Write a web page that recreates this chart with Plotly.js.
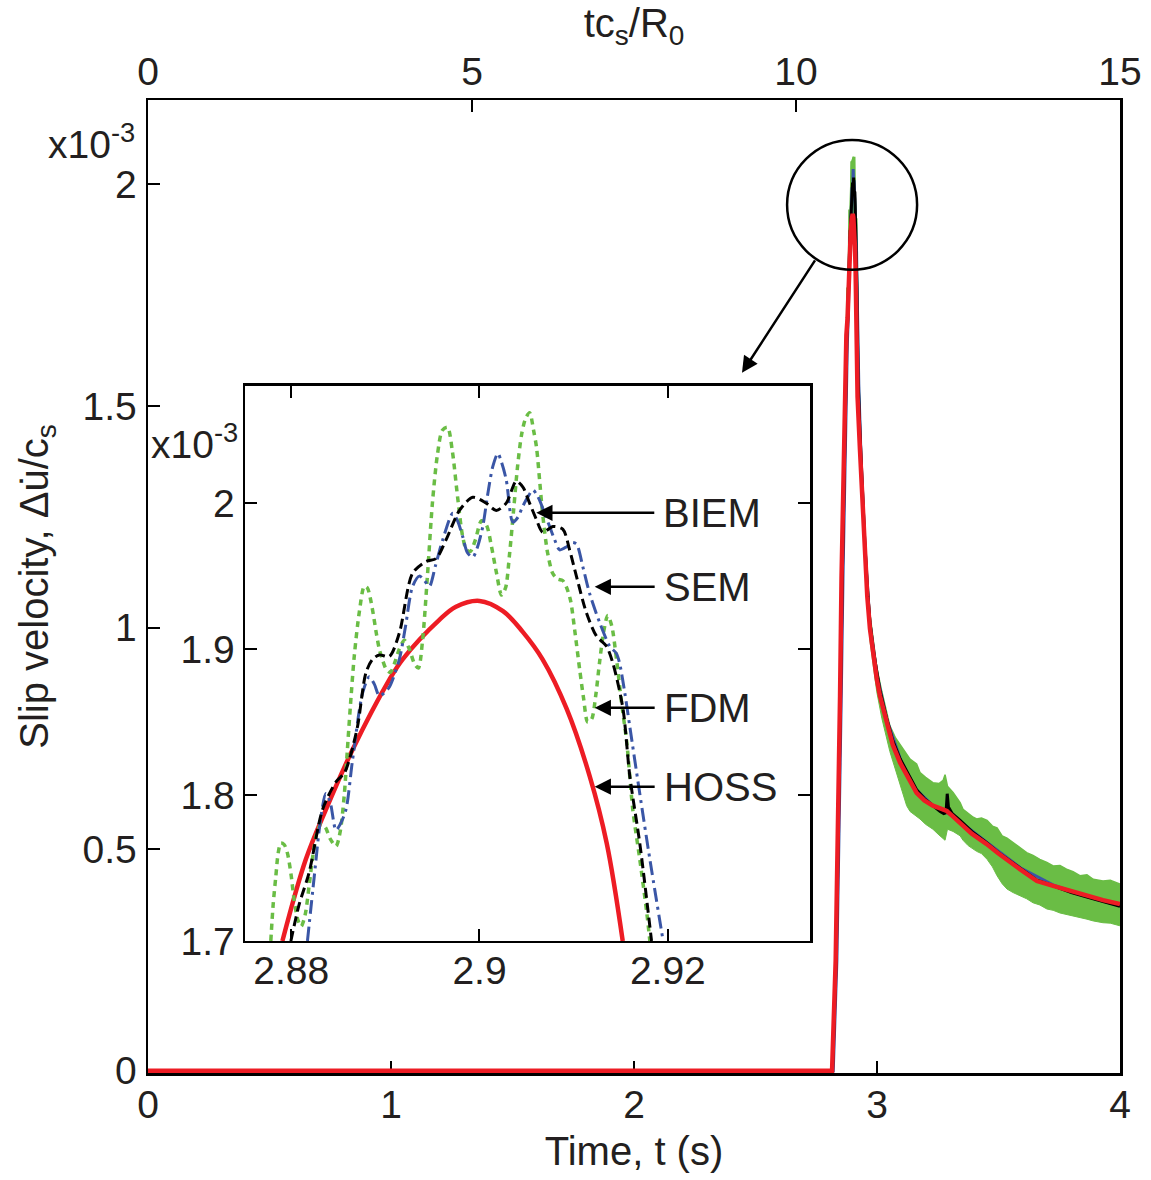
<!DOCTYPE html>
<html>
<head>
<meta charset="utf-8">
<script src="https://cdn.plot.ly/plotly-3.0.1.min.js"></script>
<style>
  html, body { margin: 0; padding: 0; background: #fff; }
  #chart { width: 1151px; height: 1180px; }
</style>
</head>
<body>
<div id="chart"></div>
<script>
// ---------------- DATA (slip velocity in units of 1e-3) ----------------
// Inset (zoom near the peak), time in s
const hossInsetT = [2.87907, 2.88156, 2.88369, 2.88652, 2.89043, 2.89184, 2.89574, 2.8975, 2.9, 2.9025, 2.90457, 2.90670, 2.90926, 2.91170, 2.91351, 2.91521];
const hossInsetV = [1.700, 1.756, 1.790, 1.831, 1.879, 1.893, 1.920, 1.929, 1.933, 1.926, 1.912, 1.893, 1.859, 1.813, 1.767, 1.700];

const biemInsetT = [2.87997, 2.88085, 2.88191, 2.88333, 2.88476, 2.88564, 2.88617, 2.88705, 2.88795, 2.88865, 2.88936, 2.89043, 2.89149, 2.89290, 2.89433, 2.89539, 2.89646, 2.89787, 2.89929, 2.90071, 2.90178, 2.90284, 2.90390, 2.90461, 2.90532, 2.90603, 2.90673, 2.90780, 2.90886, 2.90957, 2.91029, 2.91135, 2.91241, 2.91348, 2.91418, 2.91524, 2.91596, 2.91702, 2.91827];
const biemInsetV = [1.700, 1.725, 1.747, 1.790, 1.809, 1.815, 1.824, 1.847, 1.884, 1.893, 1.896, 1.895, 1.911, 1.952, 1.960, 1.962, 1.975, 1.995, 2.004, 2.000, 1.995, 2.000, 2.015, 2.011, 2.000, 1.989, 1.980, 1.984, 1.982, 1.968, 1.950, 1.925, 1.909, 1.902, 1.890, 1.859, 1.813, 1.767, 1.700];

const semInsetT = [2.88173, 2.88245, 2.88316, 2.88369, 2.88415, 2.88476, 2.88521, 2.88582, 2.88652, 2.88759, 2.88830, 2.88883, 2.88936, 2.88989, 2.89043, 2.89149, 2.89213, 2.89290, 2.89362, 2.89415, 2.89468, 2.89532, 2.89610, 2.89716, 2.89766, 2.89822, 2.89872, 2.89929, 2.89979, 2.90035, 2.90085, 2.90141, 2.90195, 2.90234, 2.90284, 2.90354, 2.90404, 2.90461, 2.90511, 2.90567, 2.90606, 2.90638, 2.90691, 2.90745, 2.90798, 2.90851, 2.90922, 2.90979, 2.91029, 2.91099, 2.91170, 2.91277, 2.91383, 2.91454, 2.91489, 2.91543, 2.91596, 2.91702, 2.91809, 2.91950];
const semInsetV = [1.700, 1.744, 1.785, 1.801, 1.795, 1.776, 1.780, 1.790, 1.824, 1.870, 1.881, 1.876, 1.868, 1.870, 1.874, 1.893, 1.915, 1.943, 1.950, 1.947, 1.943, 1.957, 1.975, 1.993, 1.988, 1.977, 1.966, 1.963, 1.970, 1.984, 2.005, 2.025, 2.034, 2.028, 2.016, 1.987, 1.990, 1.998, 2.004, 2.009, 2.006, 2.002, 1.993, 1.984, 1.975, 1.968, 1.970, 1.973, 1.972, 1.956, 1.938, 1.918, 1.902, 1.897, 1.890, 1.870, 1.847, 1.801, 1.756, 1.700];

const fdmInsetT = [2.87784, 2.87809, 2.87837, 2.87862, 2.87890, 2.87926, 2.87961, 2.88000, 2.88032, 2.88074, 2.88106, 2.88149, 2.88191, 2.88234, 2.88277, 2.88319, 2.88362, 2.88415, 2.88476, 2.88521, 2.88564, 2.88596, 2.88628, 2.88670, 2.88723, 2.88777, 2.88809, 2.88840, 2.88872, 2.88904, 2.88936, 2.88968, 2.89011, 2.89053, 2.89096, 2.89149, 2.89202, 2.89255, 2.89309, 2.89351, 2.89394, 2.89447, 2.89500, 2.89553, 2.89606, 2.89660, 2.89713, 2.89766, 2.89819, 2.89862, 2.89904, 2.89957, 2.90021, 2.90074, 2.90128, 2.90181, 2.90234, 2.90277, 2.90319, 2.90362, 2.90404, 2.90447, 2.90489, 2.90532, 2.90574, 2.90606, 2.90638, 2.90670, 2.90723, 2.90777, 2.90830, 2.90883, 2.90926, 2.90968, 2.91011, 2.91064, 2.91106, 2.91149, 2.91191, 2.91234, 2.91277, 2.91319, 2.91362, 2.91404, 2.91457, 2.91511, 2.91564, 2.91628, 2.91702, 2.91777, 2.91809];
const fdmInsetV = [1.700, 1.725, 1.744, 1.760, 1.767, 1.766, 1.760, 1.745, 1.728, 1.714, 1.710, 1.718, 1.738, 1.760, 1.775, 1.780, 1.778, 1.770, 1.765, 1.775, 1.800, 1.830, 1.860, 1.895, 1.925, 1.943, 1.942, 1.935, 1.924, 1.911, 1.900, 1.893, 1.886, 1.884, 1.890, 1.900, 1.906, 1.900, 1.890, 1.887, 1.905, 1.950, 2.000, 2.033, 2.050, 2.052, 2.035, 2.005, 1.978, 1.968, 1.967, 1.975, 1.988, 1.985, 1.970, 1.952, 1.937, 1.942, 1.965, 1.995, 2.025, 2.047, 2.058, 2.062, 2.050, 2.038, 2.016, 1.993, 1.966, 1.952, 1.948, 1.947, 1.942, 1.933, 1.913, 1.886, 1.866, 1.850, 1.852, 1.868, 1.892, 1.912, 1.923, 1.916, 1.892, 1.862, 1.836, 1.790, 1.756, 1.719, 1.700];

// Main plot: portions before and after the zoomed window
const hossPreT  = [0, 2.815, 2.83, 2.84, 2.848, 2.854, 2.861, 2.868, 2.874];
const hossPreV  = [0, 0, 0.25, 0.55, 0.846, 1.11, 1.34, 1.56, 1.66];
const hossPostT = [2.92, 2.93, 2.94, 2.95, 2.96, 2.971, 2.985, 2.999, 3.012, 3.039, 3.065, 3.095, 3.13, 3.163, 3.195, 3.23, 3.26, 3.287, 3.31, 3.342, 3.39, 3.45, 3.50, 3.588, 3.658, 3.725, 3.80, 3.864, 3.93, 4.0];
const hossPostV = [1.52, 1.40, 1.27, 1.16, 1.07, 0.997, 0.935, 0.884, 0.846, 0.785, 0.735, 0.695, 0.66, 0.627, 0.61, 0.598, 0.592, 0.586, 0.575, 0.559, 0.535, 0.512, 0.49, 0.455, 0.428, 0.417, 0.405, 0.395, 0.385, 0.376];

const biemPreT  = [0, 2.817, 2.832, 2.842, 2.85, 2.857, 2.864, 2.871, 2.876];
const biemPreV  = [0, 0, 0.25, 0.55, 0.846, 1.11, 1.34, 1.56, 1.66];
const biemPostT = [2.922, 2.93, 2.94, 2.95, 2.96, 2.971, 2.985, 2.999, 3.012, 3.039, 3.065, 3.095, 3.13, 3.163, 3.195, 3.23, 3.26, 3.275, 3.284, 3.289, 3.294, 3.31, 3.342, 3.39, 3.45, 3.50, 3.588, 3.658, 3.725, 3.80, 3.864, 3.93, 4.0];
const biemPostV = [1.56, 1.44, 1.30, 1.19, 1.09, 1.012, 0.948, 0.897, 0.858, 0.796, 0.745, 0.704, 0.668, 0.634, 0.614, 0.598, 0.585, 0.580, 0.582, 0.625, 0.595, 0.580, 0.565, 0.540, 0.515, 0.492, 0.457, 0.430, 0.417, 0.402, 0.392, 0.381, 0.371];

const semPreT  = [0, 2.82, 2.835, 2.845, 2.853, 2.86, 2.867, 2.874, 2.878];
const semPreV  = [0, 0, 0.25, 0.55, 0.846, 1.11, 1.34, 1.56, 1.64];
const semPostT = [2.925, 2.935, 2.95, 2.97, 3.0, 3.04, 3.1, 3.16, 3.23, 3.29, 3.34, 3.45, 3.59, 3.73, 3.86, 4.0];
const semPostV = [1.55, 1.37, 1.19, 1.015, 0.893, 0.793, 0.697, 0.635, 0.598, 0.582, 0.563, 0.516, 0.458, 0.418, 0.394, 0.372];

// FDM in the main plot: oscillation envelope (upper / lower)
const fdmBandT = [0, 2.815, 2.83, 2.848, 2.868, 2.88, 2.89, 2.895, 2.903, 2.91, 2.915, 2.93, 2.95, 2.971, 2.999, 3.02, 3.053, 3.075, 3.095, 3.122, 3.136, 3.163, 3.177, 3.2, 3.23, 3.255, 3.272, 3.28, 3.29, 3.313, 3.342, 3.354, 3.375, 3.396, 3.41, 3.43, 3.453, 3.475, 3.494, 3.515, 3.535, 3.56, 3.588, 3.616, 3.642, 3.67, 3.699, 3.725, 3.753, 3.78, 3.807, 3.835, 3.864, 3.89, 3.93, 3.96, 4.0];
const fdmUpper = [0, 0, 0.27, 0.87, 1.59, 1.78, 1.95, 2.05, 2.062, 1.96, 1.92, 1.45, 1.21, 1.03, 0.91, 0.855, 0.778, 0.752, 0.735, 0.712, 0.703, 0.692, 0.673, 0.662, 0.650, 0.648, 0.655, 0.668, 0.642, 0.628, 0.605, 0.590, 0.580, 0.572, 0.568, 0.570, 0.565, 0.552, 0.548, 0.530, 0.525, 0.515, 0.505, 0.492, 0.486, 0.477, 0.470, 0.462, 0.463, 0.455, 0.449, 0.440, 0.442, 0.432, 0.428, 0.430, 0.421];
const fdmLower = [0, 0, 0.23, 0.82, 1.53, 1.70, 1.83, 1.87, 1.92, 1.84, 1.70, 1.39, 1.14, 0.97, 0.855, 0.795, 0.72, 0.68, 0.645, 0.598, 0.585, 0.575, 0.568, 0.556, 0.545, 0.532, 0.523, 0.520, 0.545, 0.540, 0.530, 0.520, 0.508, 0.500, 0.495, 0.490, 0.477, 0.460, 0.440, 0.422, 0.410, 0.402, 0.395, 0.388, 0.379, 0.374, 0.365, 0.362, 0.356, 0.353, 0.349, 0.346, 0.342, 0.338, 0.334, 0.333, 0.327];

// Tick labels
const mainXTicks = [0, 1, 2, 3, 4];
const topXTicks = [0, 5, 10, 15];
const mainYTicks = [0, 0.5, 1, 1.5, 2];
const mainYText = ['0', '0.5', '1', '1.5', '2'];
const insetXTicks = [2.88, 2.9, 2.92];
const insetXText = ['2.88', '2.9', '2.92'];
const insetYTicks = [1.7, 1.8, 1.9, 2.0];
const insetYText = ['1.7', '1.8', '1.9', '2'];
const methodLabels = ['BIEM', 'SEM', 'FDM', 'HOSS'];
// label arrow tips in inset data coordinates
const labelTipT = [2.90603, 2.91223, 2.91223, 2.91223];
const labelTipV = [1.9934, 1.9427, 1.8598, 1.8057];

// ---------------- STYLE ----------------
const FONT = 'Liberation Sans, Arial, Helvetica, sans-serif';
const TXT = '#231f20';
const RED = '#ed1c24';
const GREEN = '#6abd45';
const BLUE = '#3a56a6';
const BLACK = '#000000';

const hossMainT = hossPreT.concat(hossInsetT, hossPostT);
const hossMainV = hossPreV.concat(hossInsetV, hossPostV);
const biemMainT = biemPreT.concat(biemInsetT, biemPostT);
const biemMainV = biemPreV.concat(biemInsetV, biemPostV);
const semMainT = semPreT.concat(semInsetT, semPostT);
const semMainV = semPreV.concat(semInsetV, semPostV);

const traces = [
  // main plot
  {x: fdmBandT, y: fdmLower, xaxis: 'x', yaxis: 'y', mode: 'lines', line: {color: GREEN, width: 1}, showlegend: false, hoverinfo: 'skip', name: 'FDM lower'},
  {x: fdmBandT, y: fdmUpper, xaxis: 'x', yaxis: 'y', mode: 'lines', fill: 'tonexty', fillcolor: GREEN, line: {color: GREEN, width: 1.5}, showlegend: false, name: 'FDM'},
  {x: fdmInsetT, y: fdmInsetV, xaxis: 'x', yaxis: 'y', mode: 'lines', line: {color: GREEN, width: 3}, showlegend: false, name: 'FDM peak'},
  {x: semMainT, y: semMainV, xaxis: 'x', yaxis: 'y', mode: 'lines', line: {color: BLUE, width: 3}, showlegend: false, name: 'SEM'},
  {x: biemMainT, y: biemMainV, xaxis: 'x', yaxis: 'y', mode: 'lines', line: {color: BLACK, width: 3}, showlegend: false, name: 'BIEM'},
  {x: hossMainT, y: hossMainV, xaxis: 'x', yaxis: 'y', mode: 'lines', line: {color: RED, width: 4.5}, showlegend: false, name: 'HOSS'},
  // top axis carrier (no marks)
  {x: [], y: [], xaxis: 'x2', yaxis: 'y', mode: 'lines', showlegend: false, hoverinfo: 'skip'},
  // inset
  {x: hossInsetT, y: hossInsetV, xaxis: 'x3', yaxis: 'y3', mode: 'lines', line: {color: RED, width: 4.5, shape: 'spline', smoothing: 1}, showlegend: false, name: 'HOSS'},
  {x: fdmInsetT, y: fdmInsetV, xaxis: 'x3', yaxis: 'y3', mode: 'lines', line: {color: GREEN, width: 3.5, dash: '6px,5px', shape: 'spline', smoothing: 0.8}, showlegend: false, name: 'FDM'},
  {x: semInsetT, y: semInsetV, xaxis: 'x3', yaxis: 'y3', mode: 'lines', line: {color: BLUE, width: 3, dash: '14px,5px,3px,5px', shape: 'spline', smoothing: 0.8}, showlegend: false, name: 'SEM'},
  {x: biemInsetT, y: biemInsetV, xaxis: 'x3', yaxis: 'y3', mode: 'lines', line: {color: BLACK, width: 3, dash: '10px,5px', shape: 'spline', smoothing: 0.8}, showlegend: false, name: 'BIEM'}
];

const tickFont = {family: FONT, size: 39, color: TXT};
const titleFont = {family: FONT, size: 40, color: TXT};

const annotations = [
  {xref: 'paper', yref: 'paper', x: -0.011, y: 0.930, xanchor: 'right', yanchor: 'bottom', showarrow: false,
   text: 'x10<sup>-3</sup>', font: {family: FONT, size: 39, color: TXT}},
  {xref: 'paper', yref: 'paper', x: 0.0947, y: 0.622, xanchor: 'right', yanchor: 'bottom', showarrow: false,
   text: 'x10<sup>-3</sup>', font: {family: FONT, size: 39, color: TXT}},
  // arrow from zoom circle to inset
  {xref: 'x', yref: 'y', x: 2.4444, y: 1.5745, ax: 74, ay: -114, axref: 'pixel', ayref: 'pixel', text: '',
   showarrow: true, arrowhead: 2, arrowsize: 1.3, arrowwidth: 2.5, arrowcolor: BLACK}
];
// method labels with arrows pointing at their curves
methodLabels.forEach((lab, i) => {
  annotations.push({xref: 'x3', yref: 'y3', x: labelTipT[i], y: labelTipV[i],
    ax: (i === 0 ? 118 : 60), ay: 0, axref: 'pixel', ayref: 'pixel',
    xanchor: 'left', yanchor: 'middle', borderpad: 8,
    text: lab, font: {family: FONT, size: 40, color: TXT},
    showarrow: true, arrowhead: 2, arrowsize: 1.3, arrowwidth: 2.5, arrowcolor: BLACK});
});

const axisLine = {showline: true, linecolor: BLACK, linewidth: 2.5, showgrid: false, zeroline: false,
  ticks: 'inside', ticklen: 12, tickwidth: 2, tickcolor: BLACK, tickfont: tickFont, automargin: false};

const layout = {
  width: 1151, height: 1180,
  margin: {l: 148, r: 31, t: 100, b: 107, pad: 0},
  paper_bgcolor: '#ffffff', plot_bgcolor: '#ffffff',
  showlegend: false,
  font: {family: FONT, color: TXT},
  xaxis: Object.assign({}, axisLine, {
    domain: [0, 1], anchor: 'y', range: [0, 4], tickvals: mainXTicks, mirror: true, layer: 'below traces',
    ticklabelstandoff: -4,
    title: {text: 'Time, t (s)', font: titleFont, standoff: 12}
  }),
  xaxis2: Object.assign({}, axisLine, {
    overlaying: 'x', side: 'top', anchor: 'y', range: [0, 15], tickvals: topXTicks, showline: false,
    ticklabelstandoff: 6,
    title: {text: 'tc<sub>s</sub>/R<sub>0</sub>', font: titleFont, standoff: 0}
  }),
  yaxis: Object.assign({}, axisLine, {
    domain: [0, 1], anchor: 'x', range: [-0.005, 2.19], tickvals: mainYTicks, ticktext: mainYText, mirror: true,
    layer: 'below traces', ticklabelstandoff: 1,
    title: {text: 'Slip velocity, \u0394u\u0307/c<sub>s</sub>', font: titleFont, standoff: 22}
  }),
  xaxis3: Object.assign({}, axisLine, {
    domain: [0.0998, 0.6811], anchor: 'y3', range: [2.8751, 2.9351], tickvals: insetXTicks, ticktext: insetXText,
    mirror: 'ticks', ticklabelstandoff: -6
  }),
  yaxis3: Object.assign({}, axisLine, {
    domain: [0.1357, 0.7061], anchor: 'x3', range: [1.7, 2.0803], tickvals: insetYTicks, ticktext: insetYText,
    mirror: 'ticks', ticklabelstandoff: 0
  }),
  shapes: [
    {type: 'circle', xref: 'x', yref: 'y', x0: 2.630, x1: 3.165, y0: 1.807, y1: 2.100,
     line: {color: BLACK, width: 2.5}, fillcolor: 'rgba(0,0,0,0)', layer: 'above'}
  ],
  annotations: annotations
};

Plotly.newPlot('chart', traces, layout, {displayModeBar: false, staticPlot: true});
</script>
</body>
</html>
